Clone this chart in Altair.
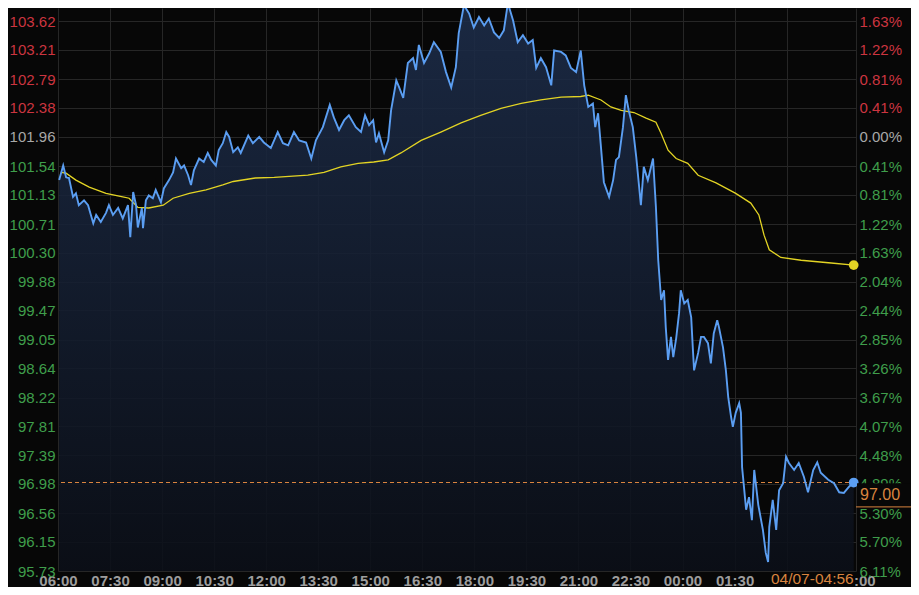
import altair as alt
import pandas as pd

# ---------------- data ----------------
# minutes after 06:00 (session runs 06:00 -> 05:00 next day)
blue_min = [
    2, 9, 14, 19, 26, 31, 36, 45, 52, 61,
    66, 74, 83, 88, 95, 104, 112, 121, 125, 130,
    135, 138, 145, 147, 152, 157, 164, 169, 178, 183,
    192, 199, 204, 213, 218, 225, 230, 235, 244, 252,
    259, 265, 273, 278, 285, 291, 296, 303, 311, 316,
    329, 337, 348, 356, 368, 380, 389, 398, 408, 417,
    429, 438, 446, 458, 470, 477, 486, 495, 503, 515,
    524, 531, 538, 545, 550, 555, 564, 571, 576, 585,
    590, 597, 605, 614, 619, 624, 633, 642, 650, 662,
    671, 680, 688, 693, 702, 711, 719, 728, 737, 745,
    754, 763, 771, 778, 787, 795, 804, 813, 821, 827,
    835, 844, 853, 858, 870, 878, 887, 896, 904, 910,
    917, 925, 929, 934, 939, 944, 953, 960, 965, 970,
    977, 982, 987, 994, 1000, 1008, 1013, 1020, 1029, 1034,
    1038, 1043, 1048, 1051, 1055, 1060, 1064, 1069, 1074, 1077,
    1083, 1089, 1095, 1098, 1100, 1107, 1112, 1117, 1124, 1129,
    1134, 1140, 1143, 1150, 1155, 1159, 1164, 1167, 1172, 1178,
    1181, 1183, 1190, 1195, 1200, 1204, 1211, 1219, 1224, 1228,
    1230, 1236, 1242, 1247, 1254, 1259, 1264, 1273, 1281, 1290,
    1297, 1306, 1313, 1319, 1332, 1342, 1351, 1359, 1368, 1376,
]
blue_price = [
    101.34, 101.55, 101.38, 101.37, 101.10, 101.15, 100.98, 101.05, 100.98, 100.72,
    100.84, 100.74, 100.87, 100.98, 100.84, 100.94, 100.79, 100.98, 100.52, 101.17,
    100.98, 100.66, 100.94, 100.65, 101.05, 101.12, 101.08, 101.20, 101.02, 101.22,
    101.34, 101.45, 101.65, 101.51, 101.55, 101.41, 101.27, 101.48, 101.65, 101.60,
    101.73, 101.63, 101.55, 101.77, 101.87, 102.03, 101.96, 101.74, 101.81, 101.73,
    101.98, 101.87, 101.96, 101.88, 101.80, 102.03, 101.87, 101.84, 102.03, 101.91,
    101.88, 101.65, 101.91, 102.10, 102.42, 102.24, 102.06, 102.20, 102.27, 102.10,
    102.03, 102.27, 102.13, 102.20, 101.88, 102.01, 101.74, 101.91, 102.34, 102.77,
    102.67, 102.52, 103.02, 103.09, 102.92, 103.28, 103.02, 103.16, 103.32, 103.18,
    102.89, 102.67, 102.96, 103.45, 103.85, 103.73, 103.53, 103.68, 103.56, 103.66,
    103.46, 103.38, 103.49, 103.88, 103.63, 103.32, 103.42, 103.30, 103.35, 102.95,
    103.09, 102.96, 102.70, 103.20, 103.18, 103.13, 102.95, 102.89, 103.20, 102.70,
    102.39, 102.44, 102.10, 102.30, 101.81, 101.31, 101.10, 101.34, 101.63, 101.67,
    102.10, 102.56, 102.34, 102.10, 101.67, 100.98, 101.53, 101.34, 101.65, 100.95,
    100.19, 99.62, 99.76, 99.23, 98.76, 99.09, 98.80, 99.07, 99.43, 99.76,
    99.57, 99.62, 99.37, 98.90, 98.61, 98.86, 99.09, 99.09, 99.00, 98.71,
    99.14, 99.33, 99.23, 98.94, 98.61, 98.23, 97.94, 97.80, 98.00, 98.14,
    98.00, 97.22, 96.61, 96.79, 96.46, 97.18, 96.68, 96.32, 95.99, 95.86,
    96.36, 96.75, 96.32, 96.89, 96.99, 97.37, 97.28, 97.18, 97.28, 97.08,
    96.86, 97.18, 97.29, 97.14, 97.04, 96.99, 96.86, 96.85, 96.94, 97.00,
]
avg_min = [
    5, 14, 31, 54, 83, 112, 123, 138, 157, 182,
    199, 227, 256, 285, 303, 341, 374, 432, 460, 489,
    519, 546, 571, 593, 628, 662, 697, 731, 766, 801,
    835, 870, 904, 917, 939, 956, 974, 996, 1017, 1034,
    1043, 1055, 1069, 1089, 1107, 1138, 1172, 1198, 1212, 1221,
    1230, 1250, 1285, 1337, 1376,
]
avg_price = [
    101.45, 101.44, 101.34, 101.24, 101.15, 101.10, 101.08, 100.95, 100.94, 100.98,
    101.08, 101.15, 101.20, 101.27, 101.32, 101.37, 101.38, 101.41, 101.45, 101.53,
    101.58, 101.60, 101.63, 101.73, 101.91, 102.03, 102.16, 102.27, 102.37, 102.44,
    102.49, 102.53, 102.54, 102.56, 102.49, 102.39, 102.34, 102.31, 102.23, 102.17,
    102.01, 101.77, 101.65, 101.58, 101.41, 101.30, 101.15, 101.01, 100.84, 100.55,
    100.34, 100.23, 100.19, 100.15, 100.12,
]

y_ticks = [103.62, 103.21, 102.79, 102.38, 101.96, 101.54, 101.13, 100.71, 100.30, 99.88,
           99.47, 99.05, 98.64, 98.22, 97.81, 97.39, 96.98, 96.56, 96.15, 95.73]
pct_labels = ["1.63%", "1.22%", "0.81%", "0.41%", "0.00%", "0.41%", "0.81%", "1.22%", "1.63%", "2.04%",
              "2.44%", "2.85%", "3.26%", "3.67%", "4.07%", "4.48%", "4.89%", "5.30%", "5.70%", "6.11%"]
x_ticks = [0, 90, 180, 270, 360, 450, 540, 630, 720, 810, 900, 990, 1080, 1170, 1260, 1380]
x_labels = ["06:00", "07:30", "09:00", "10:30", "12:00", "13:30", "15:00", "16:30",
            "18:00", "19:30", "21:00", "22:30", "00:00", "01:30", "03:00", "05:00"]
base_price = 101.96
last_price = 97.00
last_time_label = "04/07-04:56"

# ---------------- styling ----------------
W, H = 798, 563
Y_DOMAIN = [95.73, 103.81]
X_DOMAIN = [0, 1380]
BG = "#070707"
GRID = "#262626"
RED, GRAY, GREEN = "#cc3540", "#a8a8a8", "#3f9e4b"
BLUE, YELLOW, ORANGE = "#5b9ef2", "#e3d424", "#d9843f"
FONT = "Liberation Sans"

price_df = pd.DataFrame({"t": blue_min, "price": blue_price})
avg_df = pd.DataFrame({"t": avg_min, "avg": avg_price})
last_df = pd.DataFrame({
    "t": [blue_min[-1], avg_min[-1]],
    "v": [blue_price[-1], avg_price[-1]],
    "kind": ["price", "avg"],
})
one = pd.DataFrame({"a": [0]})

x_scale = alt.Scale(domain=X_DOMAIN, nice=False, zero=False)
y_scale = alt.Scale(domain=Y_DOMAIN, nice=False, zero=False)


def ternary(vals, labels):
    parts = [f"datum.value == {v} ? '{l}'" for v, l in zip(vals, labels)]
    return " : ".join(parts) + " : ''"


label_color = {
    "condition": [
        {"test": f"datum.value > {base_price + 0.01}", "value": RED},
        {"test": f"datum.value > {base_price - 0.01}", "value": GRAY},
    ],
    "value": GREEN,
}

x_axis = alt.Axis(values=x_ticks, labelExpr=ternary(x_ticks, x_labels), grid=True,
                  gridColor=GRID, domain=False, ticks=False, labelColor="#9d9d9d",
                  labelFont=FONT, labelFontSize=15, labelFontWeight="bold",
                  labelPadding=2, labelOverlap=False, labelFlush=False, title=None)
x_enc = alt.X("t:Q", scale=x_scale, axis=x_axis)

left_axis = alt.Axis(orient="left", values=y_ticks, format=".2f", grid=True, gridColor=GRID,
                     domain=False, ticks=False, labelColor=label_color, labelFont=FONT,
                     labelFontSize=15, labelPadding=3, labelOverlap=False, labelFlush=False,
                     title=None)
right_axis = alt.Axis(orient="right", values=y_ticks, labelExpr=ternary(y_ticks, pct_labels),
                      grid=False, domain=False, ticks=False, labelColor=label_color,
                      labelFont=FONT, labelFontSize=15, labelPadding=3, labelOverlap=False,
                      labelFlush=False, title=None)

gradient = alt.Gradient(
    gradient="linear",
    stops=[alt.GradientStop(color="#1d2d4a", offset=0),
           alt.GradientStop(color="#0b0f18", offset=1)],
    x1=1, x2=1, y1=0, y2=1,
)

area = alt.Chart(price_df).mark_area(color=gradient, opacity=0.88).encode(
    x=x_enc,
    y=alt.Y("price:Q", scale=y_scale, axis=left_axis),
    y2=alt.datum(Y_DOMAIN[0]),
)

dash = alt.Chart(one).mark_rule(color=ORANGE, strokeDash=[4, 3], strokeWidth=1).encode(
    y=alt.YDatum(last_price, scale=y_scale, axis=None),
)

price_line = alt.Chart(price_df).mark_line(color=BLUE, strokeWidth=1.9).encode(
    x=x_enc,
    y=alt.Y("price:Q", scale=y_scale, axis=right_axis),
)

avg_line = alt.Chart(avg_df).mark_line(color=YELLOW, strokeWidth=1.3).encode(
    x=x_enc,
    y=alt.Y("avg:Q", scale=y_scale, axis=None),
)

dots = alt.Chart(last_df).mark_point(filled=True, size=95, opacity=1).encode(
    x=x_enc,
    y=alt.Y("v:Q", scale=y_scale, axis=None),
    color=alt.Color("kind:N", scale=alt.Scale(domain=["price", "avg"], range=[BLUE, YELLOW]),
                    legend=None),
)

price_box = alt.Chart(one).mark_rect(color=BG).encode(
    x=alt.value(W + 1), x2=alt.value(W + 62),
    y=alt.YDatum(last_price - 0.01, scale=y_scale, axis=None),
    y2=alt.datum(96.65),
)
price_box_line = alt.Chart(one).mark_rule(color=ORANGE, strokeWidth=1).encode(
    x=alt.value(W), x2=alt.value(W + 62),
    y=alt.YDatum(96.65, scale=y_scale, axis=None),
)
price_text = alt.Chart(one).mark_text(
    text=f"{last_price:.2f}", align="left", baseline="middle", color=ORANGE,
    font=FONT, fontSize=16,
).encode(
    x=alt.value(W + 4),
    y=alt.YDatum(96.82, scale=y_scale, axis=None),
)

time_box = alt.Chart(one).mark_rect(color=BG).encode(
    x=alt.value(703), x2=alt.value(W - 1),
    y=alt.value(H + 1), y2=alt.value(H + 16),
)
time_text = alt.Chart(one).mark_text(
    text=last_time_label, align="right", baseline="top", color=ORANGE,
    font=FONT, fontSize=15.5,
).encode(
    x=alt.XDatum(blue_min[-1], scale=x_scale, axis=x_axis),
    y=alt.value(H + 1),
)

chart = alt.layer(
    area, dash, avg_line, price_line, dots,
    price_box, price_box_line, price_text, time_box, time_text,
).resolve_axis(y="independent").properties(
    width=W, height=H,
    padding={"left": 50, "right": 55, "top": 0, "bottom": 16},
    autosize=alt.AutoSizeParams(type="none"),
    background=BG,
).configure_view(stroke=None)

chart.save("out.html", embed_options={"renderer": "svg", "actions": False})
